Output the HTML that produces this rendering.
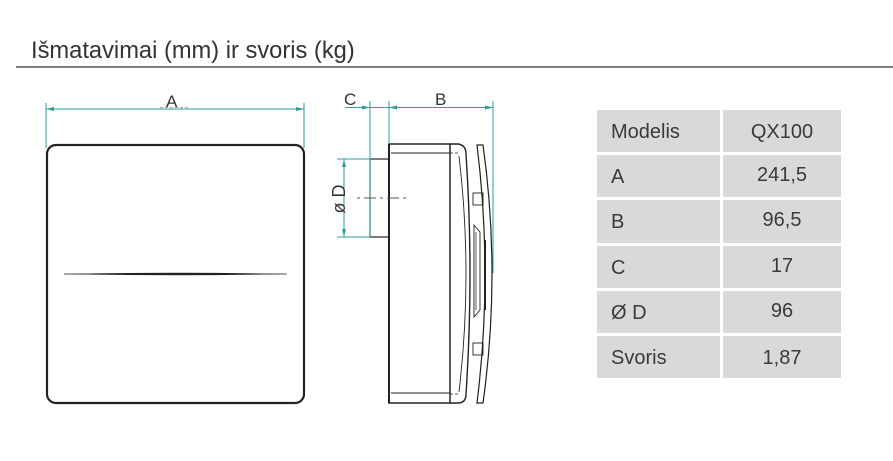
<!DOCTYPE html>
<html><head><meta charset="utf-8"><style>
html,body{margin:0;padding:0;background:#fff;}
svg{display:block;}
text{font-family:"Liberation Sans",sans-serif;}
</style></head><body>
<svg width="893" height="461" viewBox="0 0 893 461" xmlns="http://www.w3.org/2000/svg">
<rect width="893" height="461" fill="#fff"/>
<!-- title -->
<text x="31" y="58" font-size="23.7" fill="#333">Išmatavimai (mm) ir svoris (kg)</text>
<line x1="16" y1="67" x2="893" y2="67" stroke="#555" stroke-width="1.5"/>

<!-- Front view -->
<rect x="47" y="145" width="257" height="258" rx="9" ry="9" fill="none" stroke="#222" stroke-width="2.2"/>
<path d="M64,274 Q175,271.6 287,274 Q175,276.4 64,274 Z" fill="#222"/>
<line x1="64" y1="274" x2="287" y2="274" stroke="#222" stroke-width="0.8"/>

<!-- A dimension -->
<g stroke="#2e9c98" stroke-width="1" fill="none">
<line x1="46" y1="109" x2="304" y2="109"/>
<line x1="46" y1="103" x2="46" y2="148"/>
<line x1="304" y1="103" x2="304" y2="148"/>
</g>
<g fill="#2e9c98">
<path d="M46,109 L54,107 L54,111 Z"/>
<path d="M304,109 L296,107 L296,111 Z"/>
</g>
<text x="166" y="107" font-size="17" fill="#333">A</text>
<path d="M160,107.5 L190,107.5" stroke="#555" stroke-width="0.6" stroke-dasharray="3,2"/>

<!-- Side view body -->
<g stroke="#222" fill="none">
<rect x="389" y="144" width="61" height="259" stroke-width="1.5"/>
<line x1="389" y1="144" x2="389" y2="403" stroke-width="2"/>
<line x1="391" y1="153" x2="450" y2="153" stroke-width="0.9"/>
<line x1="391" y1="393" x2="450" y2="393" stroke-width="0.9"/>
<rect x="370" y="159" width="19" height="78" stroke-width="1.2"/>
<!-- cover -->
<path d="M450,144 L458,144 Q466,145 466,154 Q474,274 466,394 Q466,403 458,403 L450,403" stroke-width="1.4"/>
<path d="M459,156 Q473,274 459,392" stroke-width="0.9"/>
<path d="M450,153 L460,153" stroke-width="0.8" stroke-dasharray="3,2"/>
<path d="M450,394 L460,394" stroke-width="0.8" stroke-dasharray="3,2"/>
<!-- plate -->
<path d="M477,145 L483,145 Q501,274 483,403 L477,403 Q493,274 477,145 Z" stroke-width="1.2"/>
<!-- features -->
<rect x="473" y="193" width="10" height="12" stroke-width="0.9"/>
<rect x="473" y="343" width="10" height="12" stroke-width="0.9"/>
<path d="M474,225 L480,232 L480,310 L474,317 Z" stroke-width="0.9"/>
<line x1="476" y1="232" x2="476" y2="310" stroke-width="0.7"/>
</g>
<line x1="485" y1="240" x2="485" y2="310" stroke="#222" stroke-width="2"/>

<!-- Side dimensions -->
<g stroke="#2e9c98" stroke-width="1" fill="none">
<line x1="345" y1="107.5" x2="493" y2="107.5"/>
<line x1="370" y1="101" x2="370" y2="237"/>
<line x1="389" y1="101" x2="389" y2="144"/>
<line x1="493" y1="101" x2="493" y2="273"/>
<line x1="344" y1="159" x2="344" y2="237"/>
<line x1="337" y1="159" x2="370" y2="159"/>
<line x1="337" y1="237" x2="370" y2="237"/>
</g>
<g fill="#2e9c98">
<path d="M370,107.5 L362,105.5 L362,109.5 Z"/>
<path d="M389,107.5 L397,105.5 L397,109.5 Z"/>
<path d="M493,107.5 L485,105.5 L485,109.5 Z"/>
<path d="M344,159 L342,167 L346,167 Z"/>
<path d="M344,237 L342,229 L346,229 Z"/>
</g>
<line x1="357" y1="198" x2="408" y2="198" stroke="#555" stroke-width="0.9" stroke-dasharray="3,4,12,4"/>
<text x="344" y="105" font-size="17" fill="#333">C</text>
<text x="435" y="105" font-size="17" fill="#333">B</text>
<text transform="translate(345,199) rotate(-90)" text-anchor="middle" font-size="18" fill="#333">ø D</text>

<!-- Table -->
<g fill="#d9d9d9">
<rect x="597" y="110" width="123" height="42"/><rect x="723" y="110" width="118" height="42"/>
<rect x="597" y="155" width="123" height="42"/><rect x="723" y="155" width="118" height="42"/>
<rect x="597" y="200" width="123" height="43"/><rect x="723" y="200" width="118" height="43"/>
<rect x="597" y="246" width="123" height="42"/><rect x="723" y="246" width="118" height="42"/>
<rect x="597" y="291" width="123" height="42"/><rect x="723" y="291" width="118" height="42"/>
<rect x="597" y="336" width="123" height="42"/><rect x="723" y="336" width="118" height="42"/>
</g>
<g font-size="20" fill="#3a3a3a">
<text x="611" y="138">Modelis</text>
<text x="611" y="183">A</text>
<text x="611" y="228">B</text>
<text x="611" y="274">C</text>
<text x="611" y="319">Ø D</text>
<text x="611" y="364">Svoris</text>
</g>
<g font-size="20" fill="#3a3a3a" text-anchor="middle">
<text x="782" y="138">QX100</text>
<text x="782" y="181">241,5</text>
<text x="782" y="226">96,5</text>
<text x="782" y="272">17</text>
<text x="782" y="317">96</text>
<text x="782" y="364">1,87</text>
</g>
</svg>
</body></html>
